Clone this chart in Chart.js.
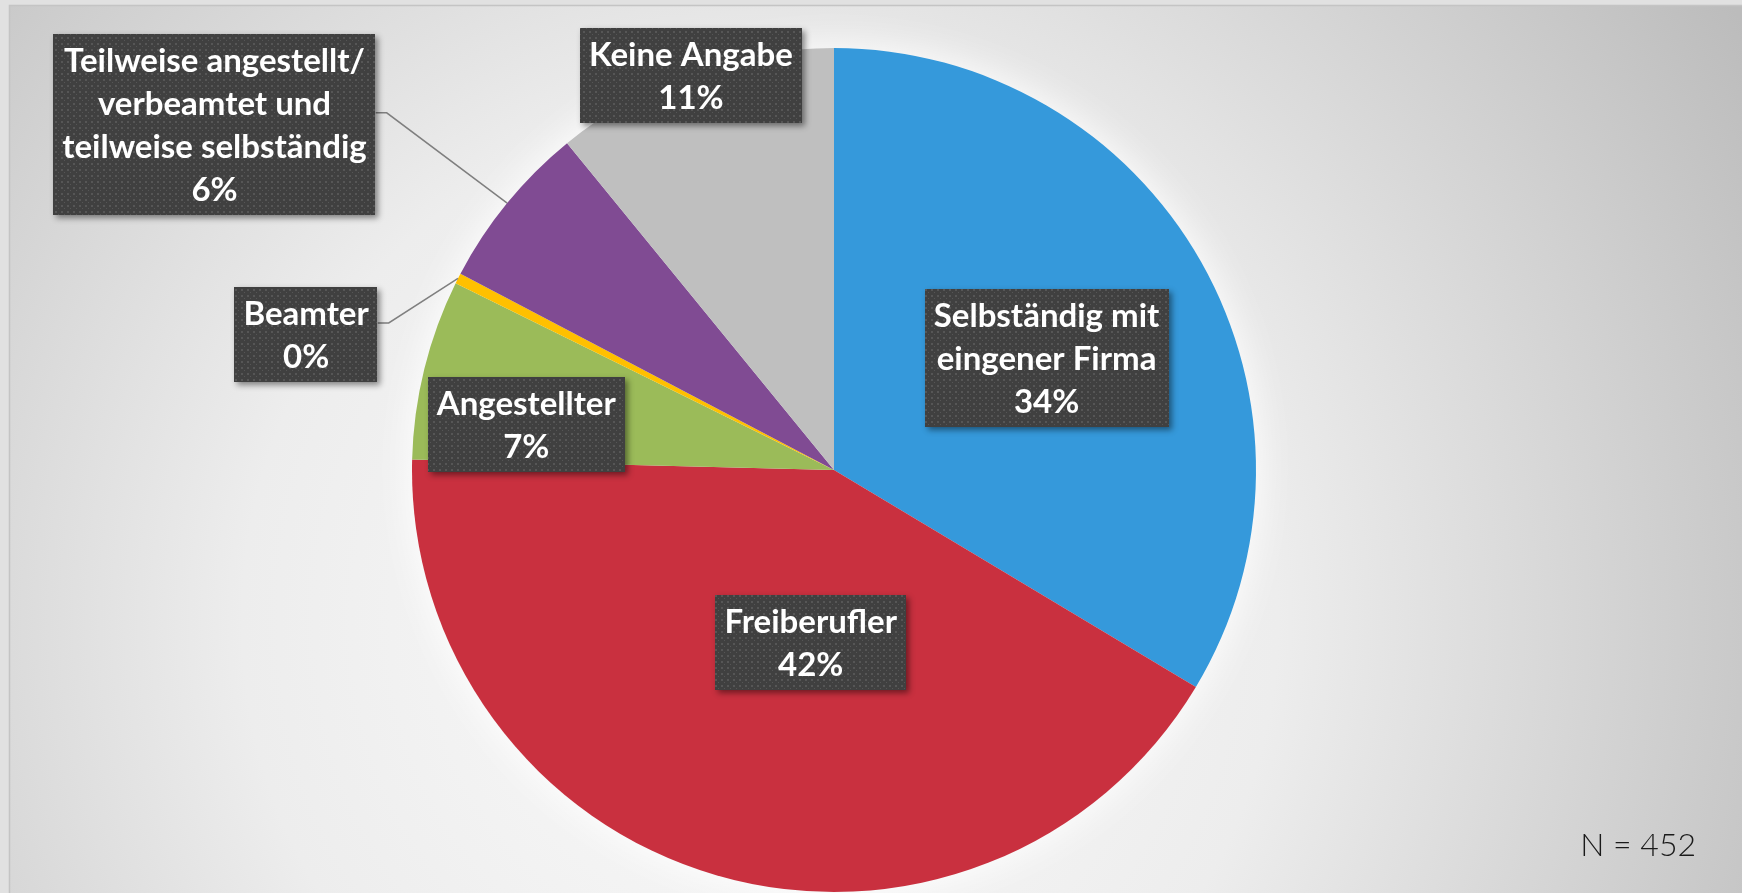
<!DOCTYPE html>
<html>
<head>
<meta charset="utf-8">
<script src="https://cdn.jsdelivr.net/npm/chart.js@4"></script>
<style>
  html, body { margin: 0; padding: 0; background: #e2e2e2; }
  #wrap { width: 1742px; height: 893px; }
</style>
</head>
<body>
<div id="wrap"><canvas id="pie" width="1742" height="893"></canvas></div>
<script>
const categories = [
    ['Selbständig mit', 'eingener Firma'],
    ['Freiberufler'],
    ['Angestellter'],
    ['Beamter'],
    ['Teilweise angestellt/', 'verbeamtet und', 'teilweise selbständig'],
    ['Keine Angabe']
];
const shares = [33.6, 41.8, 6.9, 0.4, 6.4, 10.9];
const sliceColors = ['#3599db', '#c9303f', '#9bbb59', '#ffc000', '#804b93', '#bfbfbf'];
const sampleSize = 452;

// where each label box goes: inside ones sit on the slice (fraction of radius, extra turn in degrees),
// outside ones get a box position relative to the centre (in radii) and a leader line
const placement = [
    { r: 0.569, turn: 1.8 },
    { r: 0.412, turn: -8.5 },
    { r: 0.737, turn: -5.5 },
    { box: [-1.251, -0.320] },
    { box: [-1.468, -0.818] },
    { r: 0.995, turn: -0.3 }
];

const LABEL_FONT = "bold 33px Lato, 'Open Sans', sans-serif";
const LINE_H = 43;
const PAD_X = 9;
const PAD_Y = 4.5;

function makeDots(ctx) {
    const tile = document.createElement('canvas');
    tile.width = 6; tile.height = 6;
    const t = tile.getContext('2d');
    t.fillStyle = '#404040';
    t.fillRect(0, 0, 6, 6);
    t.fillStyle = '#565656';
    t.fillRect(1, 1, 2, 2);
    t.fillRect(4, 4, 1, 1);
    return ctx.createPattern(tile, 'repeat');
}

const backdrop = {
    id: 'backdrop',
    beforeDraw(chart) {
        const { ctx, width, height } = chart;
        ctx.save();
        ctx.fillStyle = '#e1e1e1';
        ctx.fillRect(0, 0, width, height);
        const g = ctx.createRadialGradient(760, 620, 0, 760, 620, 1150);
        g.addColorStop(0, '#fbfbfb');
        g.addColorStop(0.45, '#ededed');
        g.addColorStop(1, '#bcbcbc');
        ctx.fillStyle = g;
        ctx.fillRect(9, 5, width - 9, height - 5);
        ctx.strokeStyle = '#c4c4c4';
        ctx.lineWidth = 1.5;
        ctx.beginPath();
        ctx.moveTo(9.5, height);
        ctx.lineTo(9.5, 5.5);
        ctx.lineTo(width, 5.5);
        ctx.stroke();
        ctx.restore();
    },
    beforeDatasetsDraw(chart) {
        const arc = chart.getDatasetMeta(0).data[0];
        if (!arc) return;
        const { ctx } = chart;
        ctx.save();
        ctx.shadowColor = 'rgba(255,255,255,1)';
        ctx.shadowBlur = 40;
        ctx.fillStyle = '#f7f7f7';
        ctx.beginPath();
        ctx.arc(arc.x, arc.y, arc.outerRadius, 0, Math.PI * 2);
        ctx.fill();
        ctx.restore();
    }
};

const labelBoxes = {
    id: 'labelBoxes',
    afterDatasetsDraw(chart) {
        const { ctx } = chart;
        const arcs = chart.getDatasetMeta(0).data;
        const data = chart.data.datasets[0].data;
        const total = data.reduce((a, b) => a + b, 0);
        const dots = makeDots(ctx);
        ctx.save();
        ctx.font = LABEL_FONT;
        arcs.forEach((arc, i) => {
            const lines = [...chart.data.labels[i], Math.round(data[i] / total * 100) + '%'];
            const w = Math.max(...lines.map(l => ctx.measureText(l).width)) + PAD_X * 2;
            const h = lines.length * LINE_H + PAD_Y * 2;
            const R = arc.outerRadius;
            const mid = (arc.startAngle + arc.endAngle) / 2;
            const p = placement[i];
            let cx, cy;
            if (p.box) {
                cx = arc.x + p.box[0] * R;
                cy = arc.y + p.box[1] * R;
                const sx = cx + w / 2, sy = cy - 12;
                ctx.strokeStyle = '#7f7f7f';
                ctx.lineWidth = 1.5;
                ctx.beginPath();
                ctx.moveTo(sx, sy);
                ctx.lineTo(sx + 11, sy);
                ctx.lineTo(arc.x + Math.cos(mid) * R, arc.y + Math.sin(mid) * R);
                ctx.stroke();
            } else {
                const a = mid + p.turn * Math.PI / 180;
                cx = arc.x + Math.cos(a) * p.r * R;
                cy = arc.y + Math.sin(a) * p.r * R;
            }
            const x0 = Math.round(cx - w / 2), y0 = Math.round(cy - h / 2);
            ctx.save();
            ctx.shadowColor = 'rgba(0,0,0,0.45)';
            ctx.shadowBlur = 6;
            ctx.shadowOffsetX = 3;
            ctx.shadowOffsetY = 3;
            ctx.fillStyle = '#404040';
            ctx.fillRect(x0, y0, Math.round(w), Math.round(h));
            ctx.restore();
            ctx.fillStyle = dots;
            ctx.fillRect(x0, y0, Math.round(w), Math.round(h));
            ctx.fillStyle = '#ffffff';
            ctx.textAlign = 'center';
            ctx.textBaseline = 'middle';
            lines.forEach((l, k) => {
                ctx.fillText(l, cx, y0 + PAD_Y + LINE_H * (k + 0.5) + 1);
            });
        });
        ctx.font = "300 32px Lato, 'Open Sans', sans-serif";
        ctx.fillStyle = '#1a1a1a';
        ctx.textAlign = 'right';
        ctx.textBaseline = 'alphabetic';
        ctx.fillText('N = ' + sampleSize, 1696, 856);
        ctx.restore();
    }
};

new Chart(document.getElementById('pie'), {
    type: 'pie',
    data: {
        labels: categories,
        datasets: [{
            data: shares,
            backgroundColor: sliceColors,
            borderWidth: 0,
            hoverOffset: 0,
            offset: 0
        }]
    },
    options: {
        responsive: false,
        animation: false,
        devicePixelRatio: 1,
        layout: { padding: { left: 0, right: 74, top: 48, bottom: 1 } },
        plugins: {
            legend: { display: false },
            tooltip: { enabled: false }
        },
        events: []
    },
    plugins: [backdrop, labelBoxes]
});
</script>
</body>
</html>
